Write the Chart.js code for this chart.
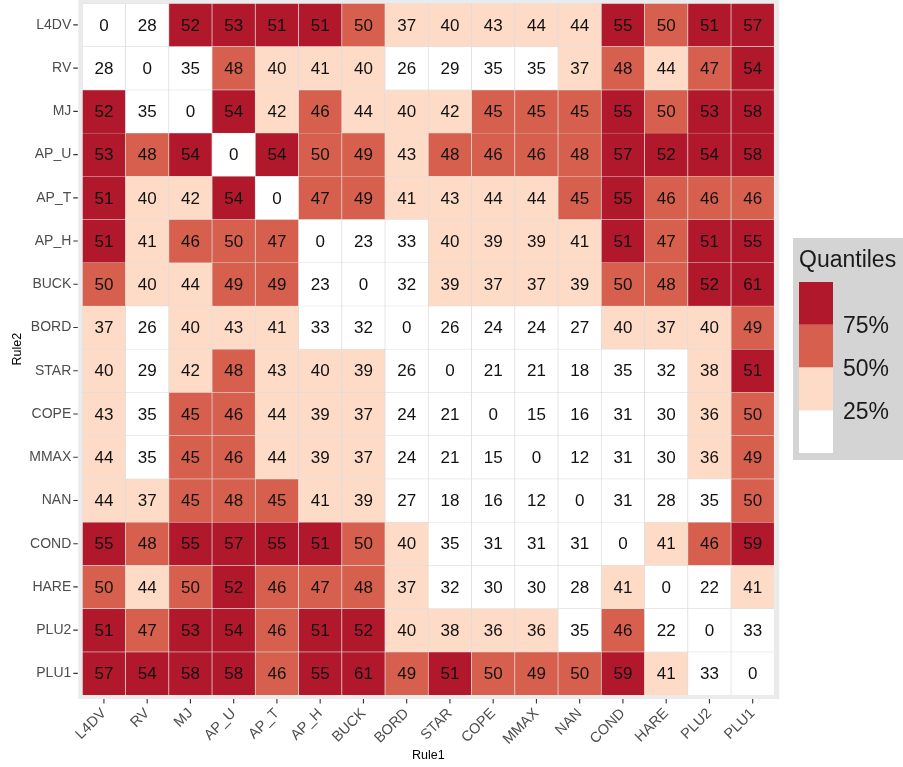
<!DOCTYPE html>
<html>
<head>
<meta charset="utf-8">
<script src="https://cdn.jsdelivr.net/npm/chart.js@4.4.0/dist/chart.umd.min.js"></script>
<style>
  body { margin: 0; background: #fff; }
  #heat { display: block; }
</style>
</head>
<body>
<canvas id="heat" width="903" height="767"></canvas>
<script>
const rules = ['L4DV', 'RV', 'MJ', 'AP_U', 'AP_T', 'AP_H', 'BUCK', 'BORD', 'STAR', 'COPE', 'MMAX', 'NAN', 'COND', 'HARE', 'PLU2', 'PLU1']

// one row per Rule2, columns follow Rule1 order
const rowL4DV = [0, 28, 52, 53, 51, 51, 50, 37, 40, 43, 44, 44, 55, 50, 51, 57]
const rowRV   = [28, 0, 35, 48, 40, 41, 40, 26, 29, 35, 35, 37, 48, 44, 47, 54]
const rowMJ   = [52, 35, 0, 54, 42, 46, 44, 40, 42, 45, 45, 45, 55, 50, 53, 58]
const rowAP_U = [53, 48, 54, 0, 54, 50, 49, 43, 48, 46, 46, 48, 57, 52, 54, 58]
const rowAP_T = [51, 40, 42, 54, 0, 47, 49, 41, 43, 44, 44, 45, 55, 46, 46, 46]
const rowAP_H = [51, 41, 46, 50, 47, 0, 23, 33, 40, 39, 39, 41, 51, 47, 51, 55]
const rowBUCK = [50, 40, 44, 49, 49, 23, 0, 32, 39, 37, 37, 39, 50, 48, 52, 61]
const rowBORD = [37, 26, 40, 43, 41, 33, 32, 0, 26, 24, 24, 27, 40, 37, 40, 49]
const rowSTAR = [40, 29, 42, 48, 43, 40, 39, 26, 0, 21, 21, 18, 35, 32, 38, 51]
const rowCOPE = [43, 35, 45, 46, 44, 39, 37, 24, 21, 0, 15, 16, 31, 30, 36, 50]
const rowMMAX = [44, 35, 45, 46, 44, 39, 37, 24, 21, 15, 0, 12, 31, 30, 36, 49]
const rowNAN  = [44, 37, 45, 48, 45, 41, 39, 27, 18, 16, 12, 0, 31, 28, 35, 50]
const rowCOND = [55, 48, 55, 57, 55, 51, 50, 40, 35, 31, 31, 31, 0, 41, 46, 59]
const rowHARE = [50, 44, 50, 52, 46, 47, 48, 37, 32, 30, 30, 28, 41, 0, 22, 41]
const rowPLU2 = [51, 47, 53, 54, 46, 51, 52, 40, 38, 36, 36, 35, 46, 22, 0, 33]
const rowPLU1 = [57, 54, 58, 58, 46, 55, 61, 49, 51, 50, 49, 50, 59, 41, 33, 0]

const matrix = [rowL4DV, rowRV, rowMJ, rowAP_U, rowAP_T, rowAP_H, rowBUCK, rowBORD,
                rowSTAR, rowCOPE, rowMMAX, rowNAN, rowCOND, rowHARE, rowPLU2, rowPLU1]

const quantileBreaks = [35.5, 44.5, 50.5]
const quantileLabels = ['25%', '50%', '75%']
const binColors = ['#FFFFFF', '#FDDBC7', '#D6604D', '#B2182B']

const FONT = '"Liberation Sans", Arial, Helvetica, sans-serif'

function binOf(v) {
    let b = 0
    quantileBreaks.forEach(q => { if (v > q) b++ })
    return b
}

// stack rows bottom-up: first dataset is the bottom row (PLU1)
const datasets = []
for (let i = matrix.length - 1; i >= 0; i--) {
    const row = matrix[i]
    datasets.push({
        label: rules[i],
        values: row,
        data: row.map(() => 1),
        backgroundColor: row.map(v => binColors[binOf(v)]),
        borderColor: 'rgba(215,215,215,0.55)',
        borderWidth: 0.7,
        barPercentage: 1,
        categoryPercentage: 1
    })
}

const panelBg = {
    id: 'panelBg',
    beforeDraw(chart) {
        const { ctx, chartArea: a } = chart
        ctx.save()
        ctx.fillStyle = '#EBEBEB'
        ctx.fillRect(a.left - 4, a.top - 3.3, a.width + 9, a.height + 7.3)
        ctx.restore()
    }
}

const cellText = {
    id: 'cellText',
    afterDatasetsDraw(chart) {
        const ctx = chart.ctx
        ctx.save()
        ctx.font = '17px ' + FONT
        ctx.fillStyle = '#111111'
        ctx.textAlign = 'center'
        ctx.textBaseline = 'middle'
        chart.data.datasets.forEach((ds, d) => {
            chart.getDatasetMeta(d).data.forEach((bar, j) => {
                const p = bar.getCenterPoint()
                ctx.fillText(String(ds.values[j]), p.x, p.y + 1)
            })
        })
        ctx.restore()
    }
}

const tickMarks = {
    id: 'tickMarks',
    afterDraw(chart) {
        const { ctx, chartArea: a, scales } = chart
        ctx.save()
        ctx.strokeStyle = '#333333'
        ctx.lineWidth = 1.1
        ctx.beginPath()
        scales.y.ticks.forEach((t, i) => {
            const y = scales.y.getPixelForTick(i)
            ctx.moveTo(a.left - 9, y)
            ctx.lineTo(a.left - 4.5, y)
        })
        scales.x.ticks.forEach((t, i) => {
            const x = scales.x.getPixelForTick(i)
            ctx.moveTo(x, a.bottom + 4)
            ctx.lineTo(x, a.bottom + 8.5)
        })
        ctx.stroke()
        ctx.restore()
    }
}

const quantileLegend = {
    id: 'quantileLegend',
    afterDraw(chart) {
        const ctx = chart.ctx
        ctx.save()
        ctx.fillStyle = '#D4D4D4'
        ctx.fillRect(793, 238, 115, 222)
        ctx.fillStyle = '#1A1A1A'
        ctx.font = '23px ' + FONT
        ctx.textAlign = 'left'
        ctx.textBaseline = 'alphabetic'
        ctx.fillText('Quantiles', 799, 267)
        const keyTop = 282, keyH = 42.75
        for (let k = 0; k < binColors.length; k++) {
            ctx.fillStyle = binColors[binColors.length - 1 - k]
            ctx.fillRect(799, keyTop + k * keyH, 34, keyH)
        }
        ctx.fillStyle = '#1A1A1A'
        ctx.font = '23px ' + FONT
        ctx.textBaseline = 'middle'
        quantileLabels.slice().reverse().forEach((lab, k) => {
            ctx.fillText(lab, 843, keyTop + (k + 1) * keyH + 2)
        })
        ctx.restore()
    }
}

const ctx = document.getElementById('heat')

new Chart(ctx, {
    type: 'bar',
    data: {
        labels: rules,
        datasets: datasets
    },
    plugins: [panelBg, cellText, tickMarks, quantileLegend],
    options: {
        responsive: false,
        animation: false,
        layout: { padding: { top: 3.3, right: 128.7, left: 0, bottom: 0 } },
        plugins: {
            legend: { display: false },
            tooltip: { enabled: false }
        },
        scales: {
            x: {
                stacked: true,
                offset: true,
                grid: { display: false, drawTicks: false },
                border: { display: false },
                ticks: {
                    autoSkip: false,
                    maxRotation: 45,
                    minRotation: 45,
                    padding: 10,
                    color: '#4D4D4D',
                    font: { family: FONT, size: 14.5 }
                },
                title: {
                    display: true,
                    text: 'Rule1',
                    color: '#000000',
                    font: { family: FONT, size: 12.5 },
                    padding: { top: 0, bottom: 4 }
                },
                afterFit(s) {
                    s.height = 72
                    s.paddingLeft = 0
                    s.paddingRight = 0
                }
            },
            y: {
                stacked: true,
                min: 0,
                max: rules.length,
                grid: { display: false, drawTicks: false },
                border: { display: false },
                afterBuildTicks(s) {
                    s.ticks = rules.map((r, i) => ({ value: i + 0.5 }))
                },
                ticks: {
                    autoSkip: false,
                    padding: 11,
                    color: '#4D4D4D',
                    font: { family: FONT, size: 14 },
                    callback: v => rules[rules.length - 1 - Math.floor(v)]
                },
                title: {
                    display: true,
                    text: 'Rule2',
                    color: '#000000',
                    font: { family: FONT, size: 12.5 },
                    padding: { top: 10, bottom: 0 }
                },
                afterFit(s) {
                    s.width = 82.3
                    s.paddingTop = 0
                    s.paddingBottom = 0
                }
            }
        }
    }
})
</script>
</body>
</html>
